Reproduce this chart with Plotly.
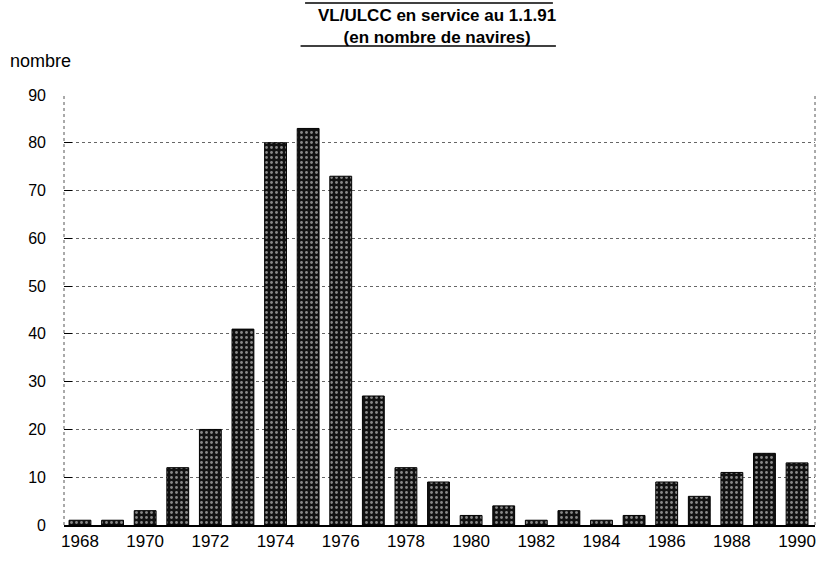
import plotly.graph_objects as go

# VL/ULCC en service au 1.1.91, par année de construction
annees = list(range(1968, 1991))
navires = [1, 1, 3, 12, 20, 41, 80, 83, 73, 27, 12, 9, 2, 4, 1, 3, 1, 2, 9, 6, 11, 15, 13]
ticks_y = [0, 10, 20, 30, 40, 50, 60, 70, 80, 90]
ticks_x = list(range(1968, 1991, 2))

police = "Liberation Sans, Arial, sans-serif"

fig = go.Figure()
fig.add_trace(go.Bar(
    x=annees, y=navires,
    width=0.67,
    marker=dict(
        color="#111111",
        line=dict(color="#000000", width=1),
        pattern=dict(shape=".", fgcolor="#ffffff", size=5, solidity=0.25),
    ),
))

fig.update_layout(
    width=820, height=562,
    margin=dict(l=64, r=5, t=95, b=37),
    plot_bgcolor="white", paper_bgcolor="white",
    showlegend=False,
    font=dict(family=police, size=17, color="#000000"),
    xaxis=dict(
        range=[1967.51, 1990.55],
        tickvals=ticks_x, ticktext=[str(t) for t in ticks_x],
        showgrid=False, zeroline=False, automargin=False,
        showline=True, linecolor="#000000", linewidth=1.5,
        ticks="", tickfont=dict(size=17),
    ),
    yaxis=dict(
        range=[0, 90],
        tickvals=ticks_y, automargin=False,
        showgrid=True, gridcolor="#666666", griddash="dot", gridwidth=1,
        zeroline=False, showline=False,
        ticks="inside", ticklen=8, tickcolor="#000000",
        ticklabelstandoff=17, tickfont=dict(size=16),
    ),
    shapes=[
        dict(type="line", xref="paper", yref="paper", x0=0, x1=0, y0=0, y1=1,
             line=dict(color="#555555", width=1, dash="dot")),
        dict(type="line", xref="paper", yref="paper", x0=1, x1=1, y0=0, y1=1,
             line=dict(color="#555555", width=1, dash="dot")),
        dict(type="line", xref="paper", yref="paper", x0=0.321, x1=0.651, y0=1.214, y1=1.214,
             line=dict(color="#000000", width=1.5)),
        dict(type="line", xref="paper", yref="paper", x0=0.315, x1=0.655, y0=1.114, y1=1.114,
             line=dict(color="#000000", width=1.5)),
    ],
    annotations=[
        dict(text="<b>VL/ULCC en service au 1.1.91</b><br><b>(en nombre de navires)</b>",
             xref="paper", yref="paper", x=0.497, y=1.16, xanchor="center", yanchor="middle",
             showarrow=False, font=dict(size=17), align="center"),
        dict(text="nombre", xref="paper", yref="paper", x=-0.0746, y=1.079,
             xanchor="left", yanchor="middle", showarrow=False, font=dict(size=18)),
    ],
)

# pas de marge autour du graphique dans la page
fig.write_html("out.html", config={"displayModeBar": False},
               post_script="document.body.style.margin='0';document.body.style.overflow='hidden';")
